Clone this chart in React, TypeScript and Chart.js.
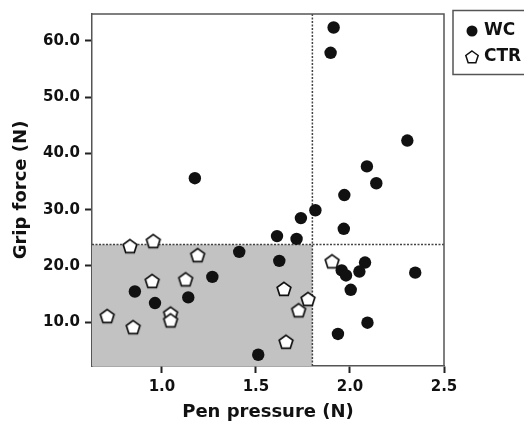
import React, { useEffect, useRef } from "react";
import { Chart, registerables } from "chart.js";

Chart.register(...registerables);

const wcX = [1.175, 1.913, 1.897, 2.305, 2.09, 2.14, 1.97, 1.816, 1.739, 1.967, 1.612, 1.716, 1.624, 1.956, 1.979, 2.08, 2.05, 2.004, 2.347, 2.093, 1.936, 1.512, 1.411, 1.268, 0.856, 1.14, 0.963];
const wcY = [35.6, 62.4, 57.9, 42.3, 37.7, 34.7, 32.6, 29.9, 28.5, 26.6, 25.3, 24.8, 20.9, 19.2, 18.3, 20.6, 19.0, 15.75, 18.8, 9.9, 7.9, 4.2, 22.5, 18.05, 15.45, 14.4, 13.4];

const ctrX = [0.83, 0.954, 1.19, 0.948, 1.126, 0.709, 0.847, 1.046, 1.046, 1.905, 1.649, 1.777, 1.727, 1.66];
const ctrY = [23.5, 24.4, 21.9, 17.3, 17.6, 11.06, 9.1, 11.5, 10.3, 20.8, 15.9, 14.1, 12.1, 6.5];

const xTicks = [1.0, 1.5, 2.0, 2.5];
const yTicks = [10, 20, 30, 40, 50, 60];
const seriesNames = ["WC", "CTR"];
const thresholdX = 1.8;
const thresholdY = 23.8;
const X_MIN = 0.628;
const X_MAX = 2.5;
const Y_MIN = 2.2;
const Y_MAX = 64.8;

const FONT = "'DejaVu Sans', sans-serif";

function pentagonPath(ctx: CanvasRenderingContext2D, cx: number, cy: number, r: number) {
  ctx.beginPath();
  for (let i = 0; i < 5; i++) {
    const a = -Math.PI / 2 + (i * 2 * Math.PI) / 5;
    const px = cx + r * Math.cos(a);
    const py = cy + r * Math.sin(a);
    if (i === 0) ctx.moveTo(px, py);
    else ctx.lineTo(px, py);
  }
  ctx.closePath();
}

function makePentagon(): HTMLCanvasElement {
  const c = document.createElement("canvas");
  c.width = 18;
  c.height = 18;
  const ctx = c.getContext("2d")!;
  pentagonPath(ctx, 9, 9.6, 7.2);
  ctx.fillStyle = "#ffffff";
  ctx.fill();
  ctx.lineWidth = 1.7;
  ctx.strokeStyle = "#111";
  ctx.stroke();
  return c;
}

const decorPlugin = {
  id: "decor",
  beforeDatasetsDraw(chart: any) {
    const { ctx, chartArea, scales } = chart;
    const { left, right, top, bottom } = chartArea;
    const px = scales.x.getPixelForValue(thresholdX);
    const py = scales.y.getPixelForValue(thresholdY);
    ctx.save();
    ctx.fillStyle = "#c2c2c2";
    ctx.fillRect(left, py, px - left, bottom - py);
    ctx.strokeStyle = "#444";
    ctx.lineWidth = 1.5;
    ctx.setLineDash([2, 1.5]);
    ctx.beginPath();
    ctx.moveTo(px, top);
    ctx.lineTo(px, bottom);
    ctx.moveTo(left, py);
    ctx.lineTo(right, py);
    ctx.stroke();
    ctx.setLineDash([]);
    ctx.strokeStyle = "#555";
    ctx.lineWidth = 1.5;
    ctx.beginPath();
    ctx.moveTo(left, top);
    ctx.lineTo(right, top);
    ctx.lineTo(right, bottom);
    ctx.stroke();
    ctx.restore();
  },
  afterDraw(chart: any) {
    const { ctx } = chart;
    ctx.save();
    ctx.strokeStyle = "#555";
    ctx.lineWidth = 1.5;
    ctx.strokeRect(453, 10.5, 90, 64);
    ctx.beginPath();
    ctx.arc(472, 31, 5.5, 0, Math.PI * 2);
    ctx.fillStyle = "#111";
    ctx.fill();
    pentagonPath(ctx, 472, 57.5, 6.5);
    ctx.fillStyle = "#fff";
    ctx.fill();
    ctx.lineWidth = 1.5;
    ctx.strokeStyle = "#111";
    ctx.stroke();
    ctx.fillStyle = "#111";
    ctx.font = `bold 17px ${FONT}`;
    ctx.textBaseline = "middle";
    ctx.textAlign = "left";
    ctx.fillText(seriesNames[0], 484, 31);
    ctx.fillText(seriesNames[1], 484, 57);
    ctx.restore();
  },
};

export default function App() {
  const ref = useRef<HTMLCanvasElement>(null);
  useEffect(() => {
    if (!ref.current) return;
    const pent = makePentagon();
    const chart = new Chart(ref.current, {
      type: "scatter",
      data: {
        datasets: [
          {
            label: seriesNames[0],
            data: wcX.map((x, i) => ({ x, y: wcY[i] })),
            pointStyle: "circle",
            pointRadius: 6.2,
            backgroundColor: "#111",
            borderColor: "#111",
            borderWidth: 0,
          },
          {
            label: seriesNames[1],
            data: ctrX.map((x, i) => ({ x, y: ctrY[i] })),
            pointStyle: pent as any,
            pointRadius: 7,
            backgroundColor: "#fff",
            borderColor: "#111",
          },
        ],
      },
      plugins: [decorPlugin],
      options: {
        responsive: false,
        animation: false,
        layout: { padding: { left: 0, right: 80, top: 12, bottom: 0 } },
        plugins: { legend: { display: false }, tooltip: { enabled: false } },
        scales: {
          x: {
            type: "linear",
            min: X_MIN,
            max: X_MAX,
            afterBuildTicks: (s: any) => {
              s.ticks = xTicks.map((v) => ({ value: v }));
            },
            afterFit: (s: any) => {
              s.height = 59;
            },
            grid: { drawOnChartArea: false, drawTicks: true, tickLength: 7, tickColor: "#222", tickWidth: 2 },
            border: { display: true, color: "#555", width: 1.5 },
            ticks: {
              color: "#111",
              font: { family: FONT, size: 15, weight: "bold" },
              padding: 5,
              maxRotation: 0,
              callback: (v: any) => Number(v).toFixed(1),
            },
            title: {
              display: true,
              text: "Pen pressure (N)",
              color: "#111",
              font: { family: FONT, size: 18, weight: "bold" },
              padding: { top: 0, bottom: 2 },
            },
          },
          y: {
            type: "linear",
            min: Y_MIN,
            max: Y_MAX,
            afterBuildTicks: (s: any) => {
              s.ticks = yTicks.map((v) => ({ value: v }));
            },
            afterFit: (s: any) => {
              s.width = 92;
            },
            grid: { drawOnChartArea: false, drawTicks: true, tickLength: 7, tickColor: "#222", tickWidth: 2 },
            border: { display: true, color: "#555", width: 1.5 },
            ticks: {
              color: "#111",
              font: { family: FONT, size: 15, weight: "bold" },
              padding: 5,
              callback: (v: any) => Number(v).toFixed(1),
            },
            title: {
              display: true,
              text: "Grip force (N)",
              color: "#111",
              font: { family: FONT, size: 18, weight: "bold" },
              padding: { top: 11, bottom: 0 },
            },
          },
        },
      },
    });
    return () => chart.destroy();
  }, []);
  return (
    <div style={{ position: "fixed", left: 0, top: 0, width: 524, height: 425, background: "#fff" }}>
      <canvas ref={ref} width={524} height={425} style={{ display: "block" }} />
    </div>
  );
}
